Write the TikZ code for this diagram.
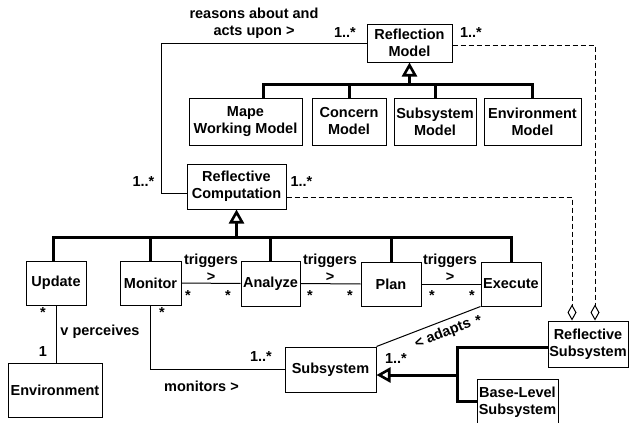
\documentclass[tikz,border=0pt]{standalone}
\usepackage{fontspec}
\setmainfont{Liberation Sans}
\usetikzlibrary{arrows.meta,calc}

\begin{document}
\begin{tikzpicture}[x=1pt,y=-1pt,
  font=\fontsize{14.5}{17}\selectfont\bfseries,
  cls/.style={draw, line width=1pt, align=center, inner sep=0pt},
  sz/.style 2 args={minimum width=#1pt, minimum height=#2pt},
  assoc/.style={line width=1pt},
  dep/.style={line width=1pt, dash pattern=on 5pt off 3pt,
    -{Diamond[open,length=16pt,width=9pt,line width=1pt]}},
  gen/.style={line width=3pt},
  genarrow/.style={gen, -{Triangle[open,length=14pt,width=15pt,line width=2.6pt]}},
  lbl/.style={inner sep=0pt, align=center},
]
\useasboundingbox (0,0) rectangle (630,423);

% classes
\node[cls, sz={85}{38}] (RM) at (409.5,43) {Reflection\\Model};
\node[cls, sz={113}{47}] (MWM) at (245.5,121.5) {Mape\\Working Model};
\node[cls, sz={74}{47}] (CM) at (349,121.5) {Concern\\Model};
\node[cls, sz={82}{47}] (SM) at (435,121.5) {Subsystem\\Model};
\node[cls, sz={97}{47}] (EM) at (532.5,121.5) {Environment\\Model};
\node[cls, sz={99}{45}] (RC) at (236.5,186.5) {Reflective\\Computation};
\node[cls, sz={60}{44}] (Update) at (56,283) {Update};
\node[cls, sz={61}{44}] (Monitor) at (150.5,283) {Monitor};
\node[cls, sz={59}{45}] (Analyze) at (270.5,283.5) {Analyze};
\node[cls, sz={60}{44}] (Plan) at (391,284) {Plan};
\node[cls, sz={60}{44}] (Execute) at (511,284) {Execute};
\node[cls, sz={94}{54}] (Env) at (55,390) {Environment};
\node[cls, sz={91}{45}] (Subsystem) at (330.5,369.5) {Subsystem};
\node[cls, sz={80}{46}] (RS) at (588,344) {Reflective\\Subsystem};
\node[cls, sz={81}{46}] (BLS) at (517.5,402) {Base-Level\\Subsystem};

% generalization: reflection models
\coordinate (b1) at (409.5,84);
\draw[genarrow] (b1) -- (RM.south);
\draw[gen] ($(MWM.north)+(17.5,0)$) |- (b1) -| (EM.north);
\draw[gen] (CM.north) -- (CM.north |- b1);
\draw[gen] (SM.north) -- (SM.north |- b1);

% generalization: MAPE computations
\coordinate (b2) at (236.5,237);
\draw[genarrow] (b2) -- (RC.south);
\draw[gen] ($(Update.north)+(-3,0)$) |- (b2) -| (Execute.north);
\draw[gen] (Monitor.north) -- (Monitor.north |- b2);
\draw[gen] (Analyze.north) -- (Analyze.north |- b2);
\draw[gen] (Plan.north) -- (Plan.north |- b2);

% generalization: subsystems
\coordinate (j) at (458,375);
\draw[genarrow] (j) -- (Subsystem.east |- j);
\draw[gen] ($(RS.west)+(0,3)$) -| ($(BLS.west)+(-19,-1)$) -- ($(BLS.west)+(0,-1)$);

% reasons about and acts upon
\draw[assoc] (RM.west) -| ($(RC.west)+(-25,6.5)$) -- ($(RC.west)+(0,6.5)$);
\node[lbl] (reasons) at (254,23.5) {reasons about and\\acts upon >};
\node[lbl] (mRMl) at (345,33) {1..*};
\node[lbl] (mRCl) at (143.5,182) {1..*};

% aggregation into the reflective subsystem
\draw[dep] ($(RM.east)+(0,2)$) -| ($(RS.north)+(7,0)$);
\draw[dep] ($(RC.east)+(0,10.5)$) -| ($(RS.north)+(-16,0)$);
\node[lbl] (mRMr) at (471,33) {1..*};
\node[lbl] (mRCr) at (301.5,182) {1..*};

% triggers chain
\draw[assoc] (Monitor.east) -- (Analyze.west);
\draw[assoc] (Analyze.east) -- (Plan.west);
\draw[assoc] (Plan.east) -- (Execute.west);
\node[lbl] (t1) at (211,268) {triggers\\>};
\node[lbl] (t2) at (330,268) {triggers\\>};
\node[lbl] (t3) at (450,268) {triggers\\>};
\node[lbl] (s1) at (188,296) {*};
\node[lbl] (s2) at (228,296) {*};
\node[lbl] (s3) at (310,296) {*};
\node[lbl] (s4) at (350,296) {*};
\node[lbl] (s5) at (432,296) {*};
\node[lbl] (s6) at (472,296) {*};

% perceives
\draw[assoc] (Update.south) -- (Update.south |- Env.north);
\node[lbl] (pu) at (43,313) {*};
\node[lbl] (pe) at (43,352) {1};
\node[lbl] (perc) at (100,332) {v perceives};

% monitors
\draw[assoc] (Monitor.south) |- (Subsystem.west);
\node[lbl] (mm) at (162,313) {*};
\node[lbl] (ms) at (261,357) {1..*};
\node[lbl] (mon) at (201.5,386) {monitors >};

% adapts
\draw[assoc] (Execute.south west) -- (Subsystem.north east);
\node[lbl, rotate=21.3] (adapts) at (443,334) {< adapts};
\node[lbl] (ae) at (478,321) {*};
\node[lbl] (as) at (396,359) {1..*};
\end{tikzpicture}
\end{document}
